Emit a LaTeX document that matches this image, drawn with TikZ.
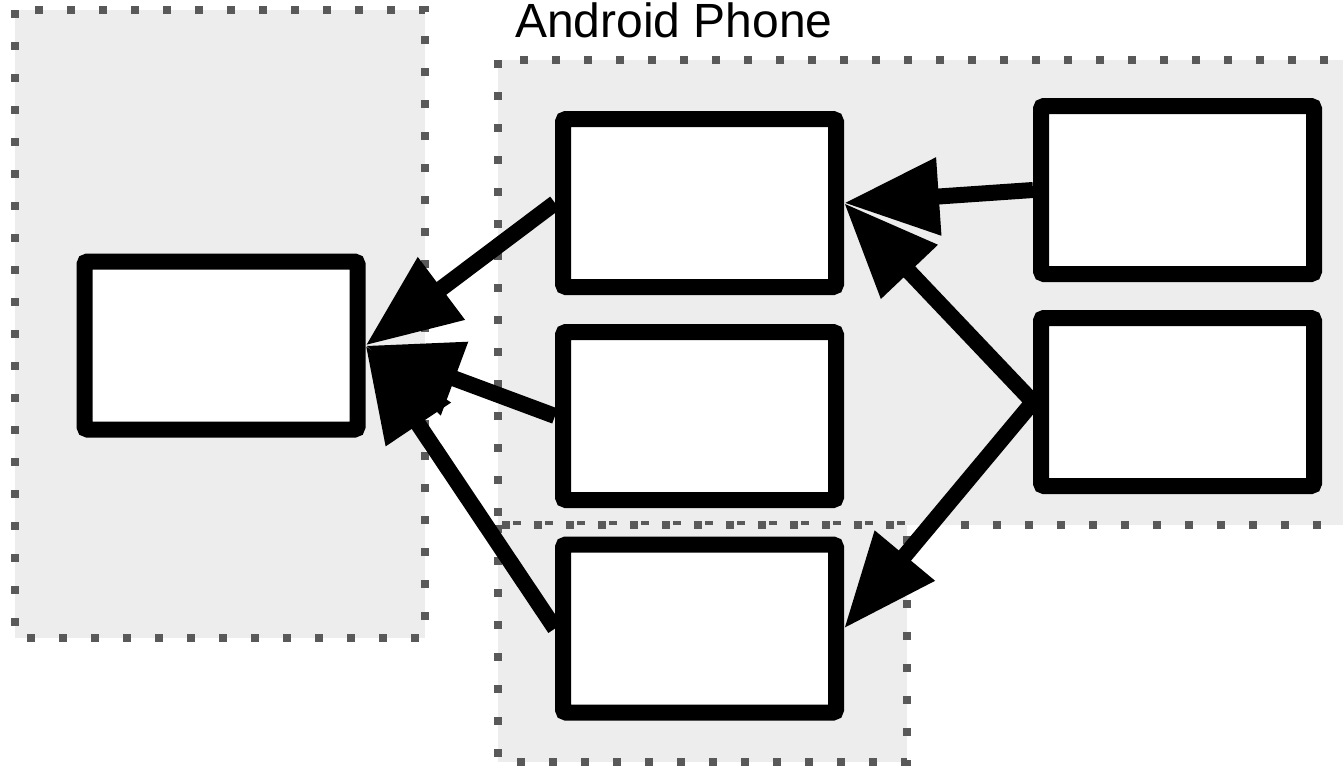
\documentclass[tikz,border=0pt]{standalone}
\usepackage{fontspec}
\setmainfont{Liberation Sans}
\usetikzlibrary{arrows.meta}
\definecolor{grpfill}{HTML}{EDEDED}
\definecolor{grpdot}{HTML}{595959}
\tikzset{
  grp/.style={fill=grpfill, draw=grpdot, line width=8pt, dash pattern=on 8pt off 24pt},
  blk/.style={draw=black, fill=white, line width=16pt, minimum width=273pt, minimum height=168pt, rounded corners=3pt, inner sep=0pt},
  conn/.style={line width=16pt, -{Triangle[length=95pt,width=74pt]}},
}
\begin{document}
\begin{tikzpicture}[x=1pt,y=-1pt]
\useasboundingbox (0,0) rectangle (1343,766);
% groups
\draw[grp] (15,10) rectangle (425,638);
\draw[grp] (498,60) rectangle (1360,525);
\draw[grp] (498,525) rectangle (907,762);
\node[anchor=base west, inner sep=0pt, font=\fontsize{48}{58}\selectfont] (title) at (515,37) {Android Phone};
% boxes
\node[blk] (L) at (221,345.5) {};
\node[blk] (A) at (699.5,203) {};
\node[blk] (B) at (699.5,416) {};
\node[blk] (C) at (699.5,628.5) {};
\node[blk] (D) at (1177.5,190) {};
\node[blk] (E) at (1177.5,402) {};
% connectors
\draw[conn] (A.west) -- (L.east);
\draw[conn] (B.west) -- (L.east);
\draw[conn] (C.west) -- (L.east);
\draw[conn] (D.west) -- (A.east);
\draw[conn] (E.west) -- (A.east);
\draw[conn] (E.west) -- (C.east);
\end{tikzpicture}
\end{document}
